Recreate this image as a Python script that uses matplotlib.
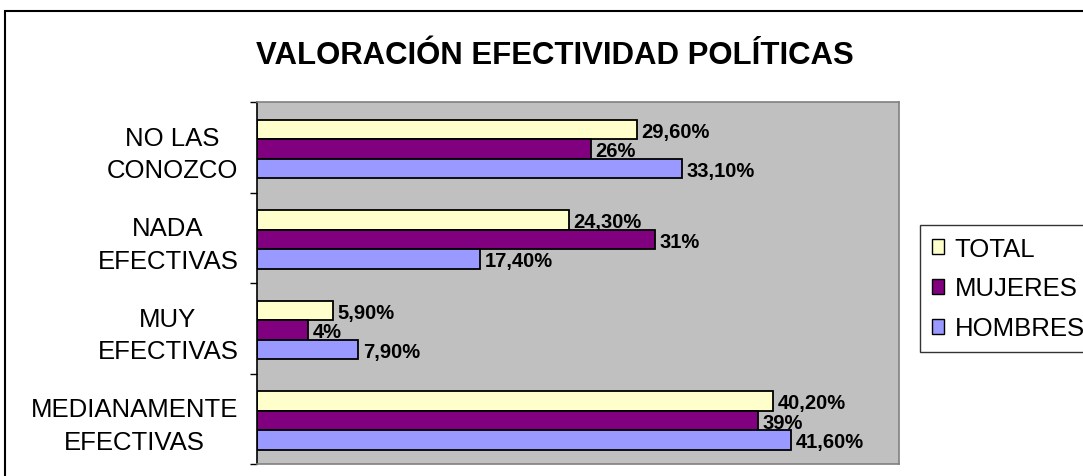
import matplotlib
matplotlib.use("Agg")
import matplotlib.pyplot as plt
from matplotlib.patches import Rectangle, Patch
import numpy as np

plt.rcParams['font.family'] = ['Liberation Sans', 'DejaVu Sans']

categories = ["NO LAS\nCONOZCO", "NADA\nEFECTIVAS", "MUY\nEFECTIVAS", "MEDIANAMENTE\nEFECTIVAS"]
series_names = ["TOTAL", "MUJERES", "HOMBRES"]
total = [29.6, 24.3, 5.9, 40.2]
mujeres = [26, 31, 4, 39]
hombres = [33.1, 17.4, 7.9, 41.6]
value_labels = [
    ["29,60%", "24,30%", "5,90%", "40,20%"],
    ["26%", "31%", "4%", "39%"],
    ["33,10%", "17,40%", "7,90%", "41,60%"],
]
colors = ["#FFFFCC", "#800080", "#9999FF"]

W, H = 1083, 477
fig = plt.figure(figsize=(W / 100, H / 100), dpi=100)

# outer chart frame (cut off on the right and bottom)
fig.patches.append(Rectangle((5 / W, -0.1), 1.2, 1 - 12 / H + 0.1,
                             transform=fig.transFigure, fill=False,
                             edgecolor="black", linewidth=1.5))

ax = fig.add_axes([257 / W, 1 - 465 / H, (899 - 257) / W, (465 - 103) / H])
ax.set_facecolor("#C0C0C0")

y = np.arange(len(categories))
h = 0.215
for i, vals in enumerate([total, mujeres, hombres]):
    pos = y + (i - 1) * h + 0.02
    ax.barh(pos, vals, height=h, color=colors[i], edgecolor="black",
            linewidth=1.3, label=series_names[i])
    for p, v, lab in zip(pos, vals, value_labels[i]):
        ax.text(v + 0.35, p + 0.02, lab, va="center", ha="left",
                fontsize=14.5, fontweight="bold")

ax.set_xlim(0, 50)
ax.set_ylim(len(categories) - 0.5, -0.5)
ax.set_xticks([])
ax.set_yticks(np.arange(len(categories) + 1) - 0.5)
ax.set_yticklabels([])
ax.tick_params(axis="y", which="major", length=5, width=1, color="black", direction="out")
ax.set_yticks(y, minor=True)
ax.set_yticklabels(categories, minor=True, fontsize=18.5)
ax.tick_params(axis="y", which="minor", length=0, pad=13.5)
for t in ax.get_yticklabels(minor=True):
    t.set_multialignment("center")
    t.set_linespacing(1.45)

for s in ["top", "right", "bottom"]:
    ax.spines[s].set_color("#808080")
    ax.spines[s].set_linewidth(1.2)
ax.spines["left"].set_color("black")
ax.spines["left"].set_linewidth(1.2)

fig.text(555 / W, 1 - 56 / H, "VALORACIÓN EFECTIVIDAD POLÍTICAS", ha="center",
         va="center", fontsize=22.4, fontweight="bold")

handles = [Patch(facecolor=c, edgecolor="black", linewidth=1.0) for c in colors]
leg = fig.legend(handles, series_names, loc="upper left",
                 bbox_to_anchor=(920 / W, 1 - 226 / H), fontsize=18.5,
                 frameon=True, fancybox=False, borderaxespad=0,
                 handlelength=0.5, handleheight=0.5, handletextpad=0.4,
                 labelspacing=0.62, borderpad=0.45)
leg.get_frame().set_edgecolor("black")
leg.get_frame().set_linewidth(1.0)

fig.savefig("out.png", dpi=100)
